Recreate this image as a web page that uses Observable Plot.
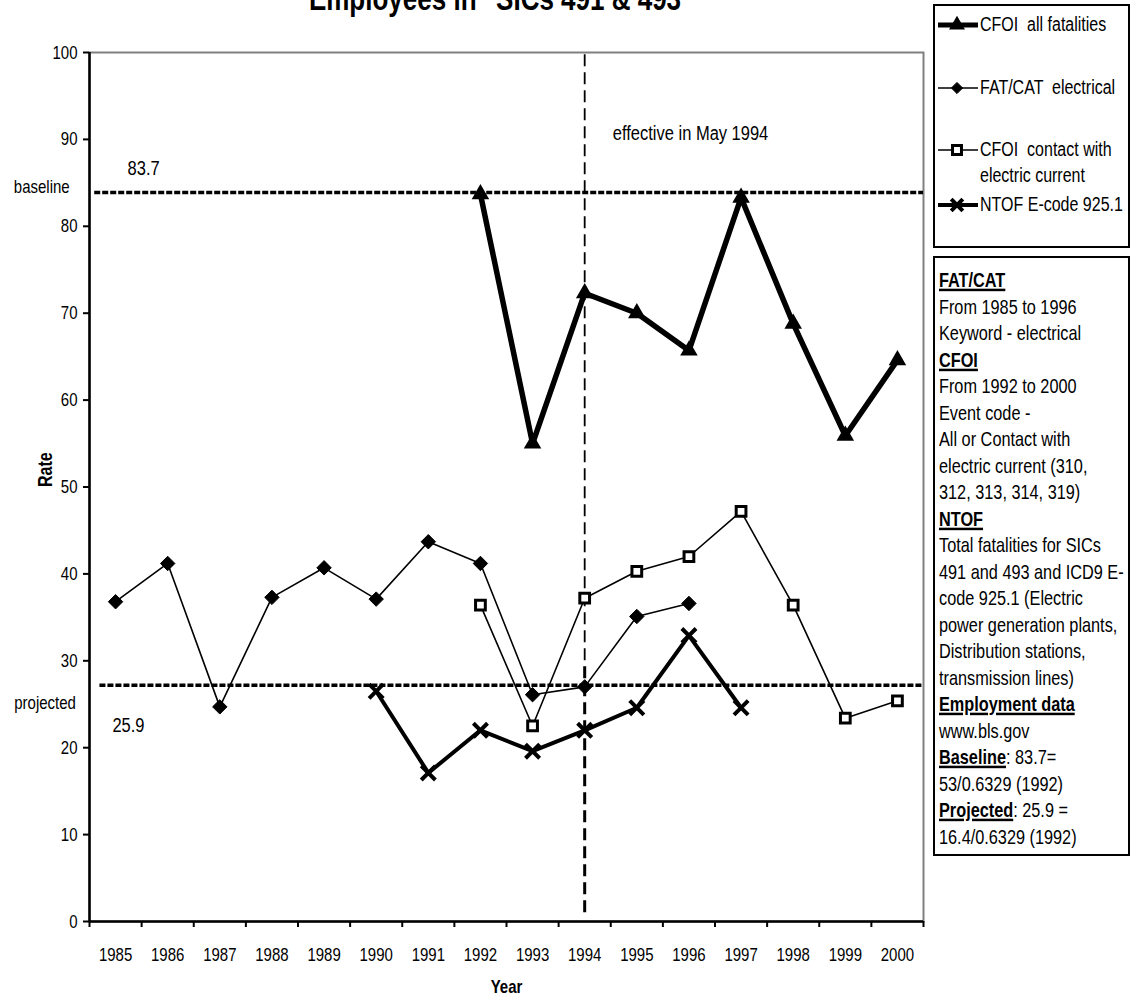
<!DOCTYPE html>
<html><head><meta charset="utf-8">
<script src="https://cdn.jsdelivr.net/npm/d3@7"></script>
<script src="https://cdn.jsdelivr.net/npm/@observablehq/plot@0.6"></script>
<style>
body{margin:0;background:#fff;}
#wrap{position:relative;width:1132px;height:1002px;overflow:hidden;background:#fff;color:#000;
 font-family:"Liberation Sans",Arial,sans-serif;}
#title{position:absolute;left:78px;width:834px;top:-12px;text-align:center;font-weight:bold;font-size:26px;line-height:26px;white-space:pre;
 transform:scaleY(1.25);transform-origin:50% 22px;}
#chart{position:absolute;left:0;top:0;}
#legend{position:absolute;left:933px;top:4px;width:197px;height:244px;border:2px solid #000;box-sizing:border-box;}
#legend .item{position:absolute;font-size:16px;line-height:26px;white-space:pre;transform:scaleY(1.25);transform-origin:0 50%;}
#legend svg{position:absolute;}
#notes{position:absolute;left:933px;top:256px;width:197px;height:600px;border:2px solid #000;box-sizing:border-box;padding:9px 0 0 4px;font-size:16.3px;line-height:26.5px;white-space:nowrap;}
#notes div{transform:scaleY(1.25);transform-origin:0 50%;}
#notes b{text-decoration:underline;text-decoration-thickness:2px;}
</style></head>
<body><div id="wrap">
<div id="chart"></div>
<div id="title">Employees in "SICs 491 &amp; 493</div>
<div id="legend"></div>
<div id="notes"><div><b>FAT/CAT</b></div><div>From 1985 to 1996</div><div>Keyword - electrical</div><div><b>CFOI</b></div><div>From 1992 to 2000</div><div>Event code -</div><div>All or Contact with</div><div>electric current (310,</div><div>312, 313, 314, 319)</div><div><b>NTOF</b></div><div>Total fatalities for SICs</div><div>491 and 493 and ICD9 E-</div><div>code 925.1 (Electric</div><div>power generation plants,</div><div>Distribution stations,</div><div>transmission lines)</div><div><b>Employment data</b></div><div>www.bls.gov</div><div><b>Baseline</b>: 83.7=</div><div>53/0.6329 (1992)</div><div><b>Projected</b>: 25.9 =</div><div>16.4/0.6329 (1992)</div></div>
</div>
<script>
// ---- data ----
const years = [1985,1986,1987,1988,1989,1990,1991,1992,1993,1994,1995,1996,1997,1998,1999,2000];
const yTicks = [0,10,20,30,40,50,60,70,80,90,100];

const cfoiAllYears = [1992,1993,1994,1995,1996,1997,1998,1999,2000];
const cfoiAllValues = [83.7,55.0,72.3,70.0,65.7,83.3,68.8,55.9,64.6];

const fatcatYears = [1985,1986,1987,1988,1989,1990,1991,1992,1993,1994,1995,1996];
const fatcatValues = [36.8,41.2,24.7,37.3,40.7,37.1,43.7,41.2,26.1,27.0,35.1,36.6];

const contactYears = [1992,1993,1994,1995,1996,1997,1998,1999,2000];
const contactValues = [36.4,22.5,37.2,40.3,42.0,47.2,36.4,23.4,25.4];

const ntofYears = [1990,1991,1992,1993,1994,1995,1996,1997];
const ntofValues = [26.5,17.1,22.0,19.6,22.0,24.6,32.9,24.6];

const baselineValue = 83.9, baselineLabel = "83.7";
const projectedValue = 27.2, projectedLabel = "25.9";
const effectiveYear = 1994;

const seriesNames = ["CFOI  all fatalities","FAT/CAT  electrical","CFOI  contact with\nelectric current","NTOF E-code 925.1"];

// ---- build ----
const zip = (xs, vs) => xs.map((x,i)=>({year:x, value:vs[i]}));
const cfoiAll = zip(cfoiAllYears, cfoiAllValues);
const fatcat = zip(fatcatYears, fatcatValues);
const contact = zip(contactYears, contactValues);
const ntof = zip(ntofYears, ntofValues);
const bounds = [years[0]-0.5, ...years.map(y=>y+0.5)];
const FONT = '"Liberation Sans",Arial,sans-serif';

const chart = Plot.plot({
  width: 930, height: 1002,
  marginLeft: 89, marginRight: 7, marginTop: 52, marginBottom: 81,
  style: {fontFamily: FONT, fontSize: "15px", color: "#000", background: "#fff", overflow: "visible"},
  x: {domain: [years[0]-0.5, years[years.length-1]+0.5]},
  y: {domain: [0, 100]},
  marks: [
    Plot.frame({stroke: "#808080", strokeWidth: 2}),
    Plot.axisY(yTicks, {tickSize: 6, tickPadding: 6, strokeWidth: 2, label: null, fontSize: 15}),
    Plot.axisX(years, {tickSize: 0, tickPadding: 26, tickFormat: d => String(d), label: null, fontSize: 15}),
    Plot.axisX(bounds, {tickSize: 6, tickFormat: () => "", strokeWidth: 2, label: null}),
    Plot.ruleX([years[0]-0.5], {stroke: "#000", strokeWidth: 2.5}),
    Plot.ruleY([0], {stroke: "#000", strokeWidth: 2.5}),
    // reference lines
    Plot.ruleY([baselineValue], {x1: 1984.6, x2: 2000.5, stroke: "#000", strokeWidth: 3.5, strokeDasharray: "6,2"}),
    Plot.ruleY([projectedValue], {x1: 1984.7, x2: 2000.5, stroke: "#000", strokeWidth: 3.5, strokeDasharray: "6,2"}),
    Plot.ruleX([effectiveYear], {y1: 30, y2: 100, stroke: "#000", strokeWidth: 1.8, strokeDasharray: "12,6"}),
    Plot.ruleX([effectiveYear], {y1: 1, y2: 30, stroke: "#000", strokeWidth: 3, strokeDasharray: "12,6"}),
    // series
    Plot.line(fatcat, {x: "year", y: "value", stroke: "#000", strokeWidth: 1.6}),
    Plot.dot(fatcat, {x: "year", y: "value", symbol: "diamond2", fill: "#000", stroke: "#000", strokeWidth: 1, r: 6.5}),
    Plot.line(contact, {x: "year", y: "value", stroke: "#000", strokeWidth: 1.6}),
    Plot.dot(contact, {x: "year", y: "value", symbol: "square", fill: "#fff", stroke: "#000", strokeWidth: 3, r: 5.5}),
    Plot.line(ntof, {x: "year", y: "value", stroke: "#000", strokeWidth: 4}),
    Plot.dot(ntof, {x: "year", y: "value", symbol: "times", stroke: "#000", strokeWidth: 4, r: 6.5}),
    Plot.line(cfoiAll, {x: "year", y: "value", stroke: "#000", strokeWidth: 5.5}),
    Plot.dot(cfoiAll, {x: "year", y: "value", symbol: "triangle", fill: "#000", r: 6.5}),
    // annotations
    Plot.text(["effective in May 1994"], {x: 1994.54, y: 90.7, textAnchor: "start", fontSize: 16.5}),
    Plot.text([baselineLabel], {x: 1985.23, y: 86.7, textAnchor: "start", fontSize: 16.5}),
    Plot.text([projectedLabel], {x: 1984.94, y: 22.6, textAnchor: "start", fontSize: 16.5}),
    Plot.text(["baseline"], {x: 1984.12, y: 84.5, textAnchor: "end", fontSize: 15}),
    Plot.text(["projected"], {x: 1984.24, y: 25.1, textAnchor: "end", fontSize: 15}),
    Plot.text(["Rate"], {frameAnchor: "left", dx: -44, rotate: -90, fontWeight: "bold", fontSize: 16, letterSpacing: "1px"}),
    Plot.text(["Year"], {frameAnchor: "bottom", dy: 71, fontWeight: "bold", fontSize: 15})
  ]
});
// stretch glyphs vertically like the reference
const S = 1.25;
chart.querySelectorAll("text").forEach(t => {
  const tr = t.getAttribute("transform");
  if (tr) t.setAttribute("transform", tr + " scale(1," + S + ")");
  else {
    const x = +t.getAttribute("x") || 0, y = +t.getAttribute("y") || 0;
    t.setAttribute("transform", "translate(" + x + "," + y + ") scale(1," + S + ") translate(" + (-x) + "," + (-y) + ")");
  }
});
document.getElementById("chart").appendChild(chart);

// ---- legend ----
const LX = 935, LY = 6; // legend padding-box origin in page coords
const legendSpec = [
  {name: seriesNames[0], y: 25, sw: 5, sym: d3.symbolTriangle, fill: "#000", stroke: "none", ssw: 0, size: 110},
  {name: seriesNames[1], y: 88, sw: 1.6, sym: d3.symbolDiamond2, fill: "#000", stroke: "#000", ssw: 1, size: 80},
  {name: seriesNames[2], y: 150, sw: 1.6, sym: d3.symbolSquare, fill: "#fff", stroke: "#000", ssw: 3, size: 80},
  {name: seriesNames[3], y: 205, sw: 4, sym: d3.symbolTimes, fill: "none", stroke: "#000", ssw: 4, size: 90}
];
const legend = d3.select("#legend");
legendSpec.forEach(s => {
  const svg = legend.append("svg").attr("width", 46).attr("height", 20)
    .style("left", (935 - LX) + "px").style("top", (s.y - 10 - LY) + "px");
  svg.append("line").attr("x1", 3).attr("x2", 43).attr("y1", 10).attr("y2", 10)
    .attr("stroke", "#000").attr("stroke-width", s.sw);
  svg.append("path").attr("d", d3.symbol(s.sym, s.size)()).attr("transform", "translate(22,10)")
    .attr("fill", s.fill).attr("stroke", s.stroke).attr("stroke-width", s.ssw);
  s.name.split("\n").forEach((t, i) => {
    legend.append("div").attr("class", "item")
      .style("left", (980 - LX) + "px").style("top", (s.y - 13 - LY + i * 26) + "px")
      .text(t);
  });
});
</script>
</body></html>
